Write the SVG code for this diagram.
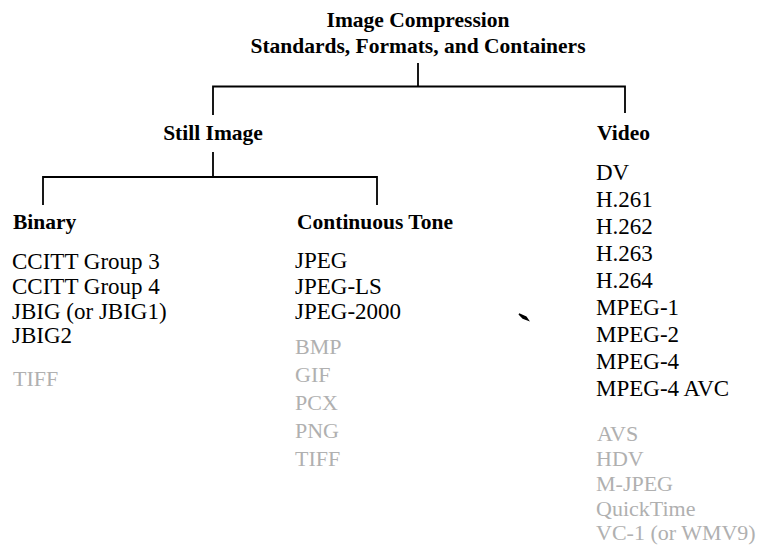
<svg xmlns="http://www.w3.org/2000/svg" width="759" height="547" viewBox="0 0 759 547">
<style>
.h{font-family:"Liberation Serif","Times New Roman",serif;font-weight:bold;font-size:21.5px;fill:#000}
.t{font-family:"Liberation Serif","Times New Roman",serif;font-size:23px;fill:#000}
.f{font-family:"Liberation Serif","Times New Roman",serif;font-size:22px;fill:#b0b0b0}
.c{stroke:#000;stroke-width:1.8;fill:none}
</style>
<rect width="759" height="547" fill="#fff"/>
<g id="connectors">
<path class="c" d="M418,63 V86.5 M213,115 V86.5 H625 V113"/>
<path class="c" d="M213,152 V177 M43,205 V177 H377 V205"/>
</g>
<g id="root">
<text class="h" x="418" y="27" text-anchor="middle">Image Compression</text>
<text class="h" x="418" y="53" text-anchor="middle">Standards, Formats, and Containers</text>
</g>
<g id="still-image">
<text class="h" x="213" y="140" text-anchor="middle">Still Image</text>
</g>
<g id="video">
<text class="h" x="597" y="140">Video</text>
<text class="t" x="596" y="180">DV</text>
<text class="t" x="596" y="207">H.261</text>
<text class="t" x="596" y="234">H.262</text>
<text class="t" x="596" y="261">H.263</text>
<text class="t" x="596" y="288">H.264</text>
<text class="t" x="596" y="315">MPEG-1</text>
<text class="t" x="596" y="342">MPEG-2</text>
<text class="t" x="596" y="369">MPEG-4</text>
<text class="t" x="596" y="396">MPEG-4 AVC</text>
<text class="f" x="597" y="441">AVS</text>
<text class="f" x="596" y="466">HDV</text>
<text class="f" x="596" y="491">M-JPEG</text>
<text class="f" x="596" y="516">QuickTime</text>
<text class="f" x="596" y="540" font-size="21">VC-1 (or WMV9)</text>
</g>
<g id="binary">
<text class="h" x="13" y="229">Binary</text>
<text class="t" x="12" y="269">CCITT Group 3</text>
<text class="t" x="12" y="294">CCITT Group 4</text>
<text class="t" x="12" y="319">JBIG (or JBIG1)</text>
<text class="t" x="12" y="343">JBIG2</text>
<text class="f" x="13" y="386">TIFF</text>
</g>
<g id="continuous-tone">
<text class="h" x="297" y="229">Continuous Tone</text>
<text class="t" x="295" y="268">JPEG</text>
<text class="t" x="295" y="294">JPEG-LS</text>
<text class="t" x="295" y="319">JPEG-2000</text>
<text class="f" x="295" y="354">BMP</text>
<text class="f" x="295" y="382">GIF</text>
<text class="f" x="295" y="410">PCX</text>
<text class="f" x="295" y="438">PNG</text>
<text class="f" x="295" y="466">TIFF</text>
</g>
<path d="M519,314 L526,317 L528,320 L523,318 Z" fill="#000" stroke="#000" stroke-width="1.5"/>
</svg>
